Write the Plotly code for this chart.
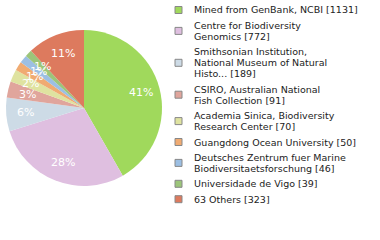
import math
import plotly.graph_objects as go

labels = [
    "Mined from GenBank, NCBI [1131]",
    "Centre for Biodiversity<br>Genomics [772]",
    "Smithsonian Institution,<br>National Museum of Natural<br>Histo... [189]",
    "CSIRO, Australian National<br>Fish Collection [91]",
    "Academia Sinica, Biodiversity<br>Research Center [70]",
    "Guangdong Ocean University [50]",
    "Deutsches Zentrum fuer Marine<br>Biodiversitaetsforschung [46]",
    "Universidade de Vigo [39]",
    "63 Others [323]",
]
values = [1131, 772, 189, 91, 70, 50, 46, 39, 323]
colors = ["#a0d95c", "#dfbfe0", "#cddbe6", "#e0a59c", "#dfe3a0",
          "#f0ab72", "#9cbfe3", "#9cc57a", "#dd7a5e"]

W, H = 380, 240
cx, cy, R = 84, 108, 78

total = sum(values)
pct_text = [f"{int(100 * v / total)}%" for v in values]

fig = go.Figure(go.Pie(
    labels=[l.replace("<br>", " ") for l in labels],
    values=values,
    marker=dict(colors=colors, line=dict(width=0)),
    sort=False,
    direction="clockwise",
    rotation=0,
    textinfo="none",
    hoverinfo="label+percent",
    showlegend=False,
    domain=dict(x=[(cx - R) / W, (cx + R) / W], y=[1 - (cy + R) / H, 1 - (cy - R) / H]),
))

annotations = []
shapes = []
# slice percentage labels, placed at mid-angle of each slice
cum = 0
for v, t in zip(values, pct_text):
    mid = (cum + v / 2) / total * 2 * math.pi
    cum += v
    r = 0.75 * R
    px = cx + r * math.sin(mid)
    py = cy - r * math.cos(mid)
    annotations.append(dict(
        x=px / W, y=1 - py / H, xref="paper", yref="paper",
        text=t, showarrow=False, xanchor="center", yanchor="middle",
        font=dict(family="DejaVu Sans", size=11, color="white"),
    ))

# legend
line_h = 11
gap = 4.4
y = 10
for lab, col in zip(labels, colors):
    lines = lab.split("<br>")
    ys = []
    for ln in lines:
        annotations.append(dict(
            x=192 / W, y=1 - y / H, xref="paper", yref="paper",
            text=ln, showarrow=False, xanchor="left", yanchor="middle",
            font=dict(family="DejaVu Sans", size=9.5, color="#222222"),
        ))
        ys.append(y)
        y += line_h
    y += gap
    yc = sum(ys) / len(ys)
    shapes.append(dict(
        type="rect", xref="paper", yref="paper",
        x0=175 / W, x1=182 / W, y0=1 - (yc - 3.5) / H, y1=1 - (yc + 3.5) / H,
        fillcolor=col, line=dict(color="#888888", width=1),
    ))

fig.update_layout(
    width=W, height=H,
    margin=dict(l=0, r=0, t=0, b=0),
    paper_bgcolor="white", plot_bgcolor="white",
    annotations=annotations, shapes=shapes,
)

fig.write_html("out.html")
